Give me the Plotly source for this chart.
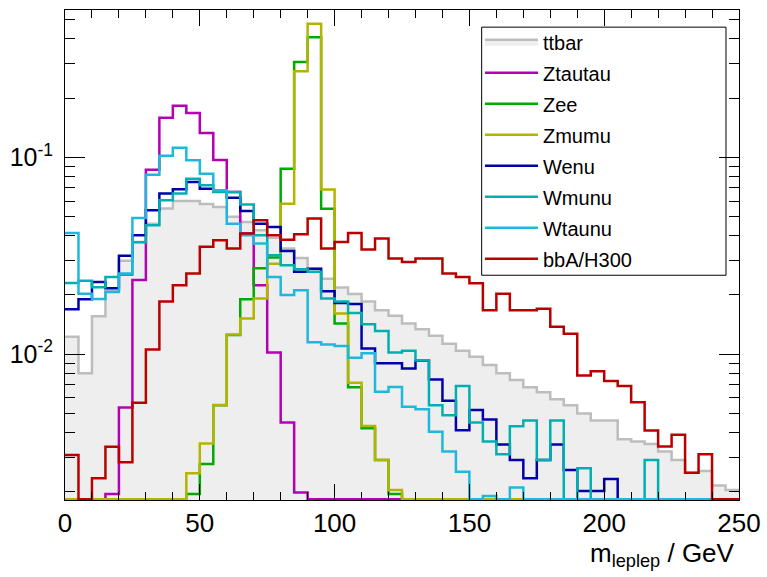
import plotly.graph_objects as go

# ---------------- data ----------------
bin_edges = list(range(0, 255, 5))          # 50 bins of 5 GeV, 0..250

ttbar = [0.01225, 0.0080, 0.0156, 0.021, 0.0298, 0.0372, 0.046, 0.055, 0.060, 0.060,
         0.058, 0.056, 0.050, 0.047, 0.0426, 0.039, 0.0344, 0.0308, 0.0272, 0.0242,
         0.0218, 0.0202, 0.0185, 0.0167, 0.0157, 0.0143, 0.0134, 0.0124, 0.0113, 0.0104,
         0.0097, 0.0088, 0.0080, 0.0074, 0.0068, 0.0064, 0.0059, 0.0055, 0.0050, 0.0046,
         0.0046, 0.0037, 0.0036, 0.0035, 0.0032, 0.0029, 0.0025, 0.00255, 0.00215, 0.00204]

ztautau = [0, 0, 0, 0.00195, 0.00536, 0.0238, 0.0866, 0.159, 0.183, 0.168,
           0.133, 0.097, 0.0667, 0.041, 0.0224, 0.0102, 0.0045, 0.00198, 0, 0,
           0, 0, 0, 0, 0, 0, 0, 0, 0, 0,
           0, 0, 0, 0, 0, 0, 0, 0, 0, 0,
           0, 0, 0, 0, 0, 0, 0, 0, 0, 0]

zee = [0, 0, 0, 0, 0, 0, 0, 0, 0, 0.00195,
       0.00277, 0.0055, 0.0125, 0.019, 0.0273, 0.031, 0.0876, 0.305, 0.408, 0.0548,
       0.0143, 0.0068, 0.0042, 0.0029, 0.00195, 0, 0, 0, 0, 0,
       0, 0, 0, 0, 0, 0, 0, 0, 0, 0,
       0, 0, 0, 0, 0, 0, 0, 0, 0, 0]

zmumu = [0, 0, 0, 0, 0, 0, 0, 0, 0, 0.00248,
         0.00352, 0.00551, 0.0126, 0.0152, 0.0192, 0.0288, 0.0582, 0.274, 0.477, 0.0686,
         0.0161, 0.00715, 0.00431, 0.0029, 0.00204, 0, 0, 0, 0, 0,
         0, 0, 0, 0, 0, 0, 0, 0, 0, 0,
         0, 0, 0, 0, 0, 0, 0, 0, 0, 0]

wenu = [0.0169, 0.019, 0.0233, 0.0216, 0.0316, 0.0402, 0.0538, 0.0655, 0.0689, 0.075,
        0.0693, 0.068, 0.0624, 0.0534, 0.046, 0.0443, 0.0334, 0.0262, 0.0272, 0.0209,
        0.0182, 0.018, 0.0107, 0.0090, 0.0090, 0.00845, 0.00925, 0.00744, 0.0058, 0.00411,
        0.0052, 0.00466, 0.00348, 0.0029, 0.00234, 0.0029, 0.00348, 0.00258, 0.00202, 0.00202,
        0.00232, 0, 0, 0, 0, 0, 0, 0, 0, 0]

wmunu = [0.023, 0.0236, 0.0219, 0.0247, 0.0253, 0.037, 0.0452, 0.0605, 0.0655, 0.078,
         0.0721, 0.0667, 0.0667, 0.0577, 0.0402, 0.0318, 0.0283, 0.027, 0.0262, 0.0192,
         0.0185, 0.0162, 0.0142, 0.0131, 0.0102, 0.0104, 0.0093, 0.0055, 0.0049, 0.0069,
         0.0045, 0.0036, 0.0031, 0.0043, 0.0046, 0.0029, 0.0046, 0, 0.00263, 0,
         0, 0, 0, 0.0029, 0, 0, 0, 0, 0, 0]

wtaunu = [0.0413, 0.0203, 0.0191, 0.0207, 0.0257, 0.0492, 0.0817, 0.102, 0.112, 0.0966,
          0.0826, 0.068, 0.046, 0.0402, 0.0365, 0.0247, 0.020, 0.0211, 0.0115, 0.0112,
          0.011, 0.0096, 0.0101, 0.00644, 0.00682, 0.0054, 0.00525, 0.00403, 0.0032, 0.00253,
          0, 0.0019, 0, 0.0021, 0, 0, 0, 0, 0, 0,
          0, 0, 0, 0, 0, 0, 0, 0, 0, 0]

bba_h300 = [0.00307, 0, 0.00234, 0.00339, 0.00282, 0.00566, 0.01056, 0.0185, 0.0224, 0.0257,
            0.0351, 0.0379, 0.0344, 0.041, 0.0479, 0.0402, 0.0382, 0.0407, 0.0489, 0.0344,
            0.0372, 0.0413, 0.034, 0.0387, 0.0306, 0.0294, 0.0306, 0.0306, 0.0257, 0.0247,
            0.0229, 0.0167, 0.0203, 0.0167, 0.0167, 0.017, 0.0138, 0.0127, 0.0078, 0.0082,
            0.0073, 0.0069, 0.0057, 0.0041, 0.0034, 0.0039, 0.0025, 0.0031, 0, 0]

series_names = ["ttbar", "Ztautau", "Zee", "Zmumu", "Wenu", "Wmunu", "Wtaunu", "bbA/H300"]
series_values = [ttbar, ztautau, zee, zmumu, wenu, wmunu, wtaunu, bba_h300]
series_colors = ["#bdbdbd", "#b400b4", "#00aa00", "#b4b400", "#0000a8", "#00b0b0", "#1fb8dc", "#b80000"]

x_tickvals = [0, 50, 100, 150, 200, 250]
y_tickvals = [0.01, 0.1]
y_ticktext = ["10<sup>-2</sup>", "10<sup>-1</sup>"]
x_title = "m<sub>leplep</sub> / GeV"

# ---------------- figure ----------------
YLOG_MIN, YLOG_MAX = -2.741, -0.251
floor = 10 ** (YLOG_MIN + 0.004)      # empty bins are drawn along the bottom of the frame
FONT = "Liberation Sans, Arial, Helvetica, sans-serif"

fig = go.Figure()
for name, vals, col in zip(series_names, series_values, series_colors):
    y = [v if v > 0 else floor for v in vals]
    y = y + [y[-1]]
    kw = {}
    if name == "ttbar":
        kw = dict(fill="tozeroy", fillcolor="#eeeeee")
    fig.add_trace(go.Scatter(
        x=bin_edges, y=y, mode="lines", name=name, legendgroup=name,
        line=dict(color=col, width=2.5, shape="hv"), **kw))

minor_y = [m * 10 ** e for e in (-3, -2, -1) for m in range(2, 10)]
minor_y = [v for v in minor_y if 10 ** YLOG_MIN < v < 10 ** YLOG_MAX]

fig.update_layout(
    width=767, height=577,
    margin=dict(l=65, r=28, t=10, b=77, autoexpand=False),
    paper_bgcolor="white", plot_bgcolor="white",
    font=dict(family=FONT, color="black"),
    showlegend=True,
    legend=dict(x=0.6157, y=0.975, xanchor="left", yanchor="top",
                bgcolor="rgba(0,0,0,0)", borderwidth=0,
                font=dict(size=20, family=FONT, color="black"),
                tracegroupgap=2, itemwidth=53),
    xaxis=dict(range=[0, 250], tickmode="array", tickvals=x_tickvals, automargin=False,
               ticks="inside", ticklen=16, tickwidth=1, tickcolor="black",
               minor=dict(tickmode="linear", tick0=0, dtick=10, ticks="inside", ticklen=8,
                          tickwidth=1, tickcolor="black", showgrid=False),
               showline=True, linecolor="black", linewidth=1, mirror="ticks",
               showgrid=False, zeroline=False,
               tickfont=dict(size=26, family=FONT, color="black")),
    yaxis=dict(type="log", range=[YLOG_MIN, YLOG_MAX], tickmode="array", automargin=False,
               tickvals=y_tickvals, ticktext=y_ticktext,
               ticks="inside", ticklen=20, tickwidth=1, tickcolor="black",
               minor=dict(tickmode="array", tickvals=minor_y, ticks="inside", ticklen=10,
                          tickwidth=1, tickcolor="black", showgrid=False),
               showline=True, linecolor="black", linewidth=1, mirror="ticks",
               showgrid=False, zeroline=False, ticklabelstandoff=6,
               tickfont=dict(size=25, family=FONT, color="black")),
)

# legend frame
fig.add_shape(type="rect", xref="paper", yref="paper",
              x0=0.6182, x1=0.9807, y0=0.4587, y1=0.965,
              line=dict(color="black", width=1), fillcolor="rgba(0,0,0,0)", layer="above")

fig.add_annotation(text=x_title, xref="paper", yref="paper", x=0.997, y=-0.112,
                   xanchor="right", yanchor="middle", showarrow=False,
                   font=dict(size=26, family=FONT, color="black"))

fig.write_html("out.html")
